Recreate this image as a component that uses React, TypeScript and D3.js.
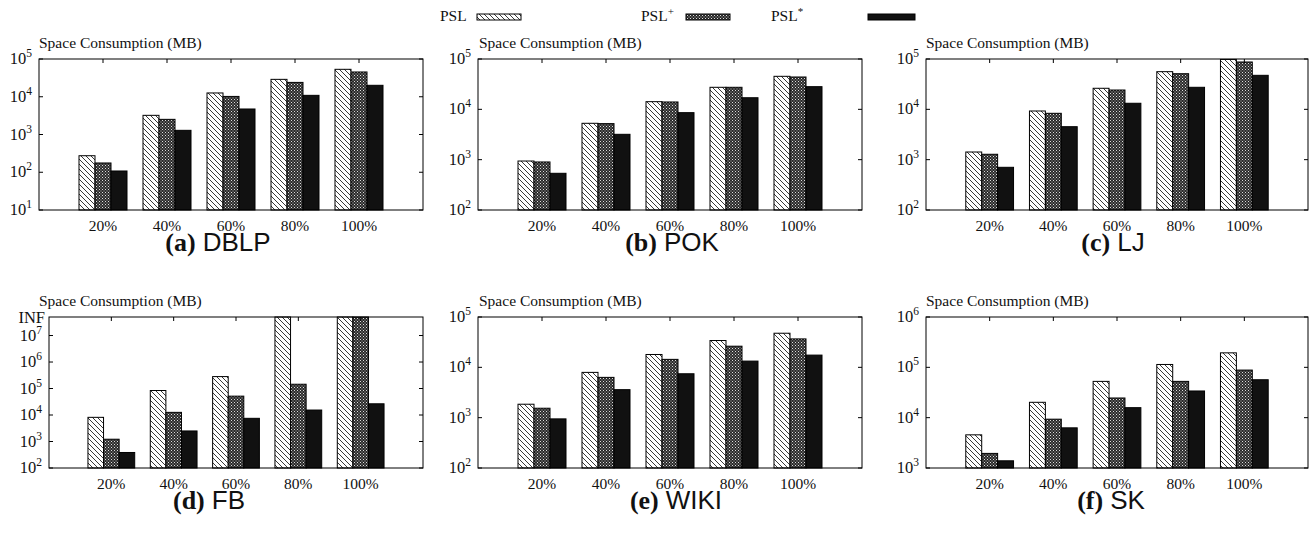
import React from "react";
import * as d3 from "d3";

// categories and series
const categories = ["20%", "40%", "60%", "80%", "100%"];
const seriesNames = ["PSL", "PSL+", "PSL*"];

// space consumption (MB)
const dblpPSL = [274, 3220, 12600, 28900, 53300];
const dblpPSLPlus = [176, 2520, 10200, 24000, 45300];
const dblpPSLStar = [108, 1290, 4740, 10900, 20100];

const pokPSL = [940, 5280, 14200, 27400, 45300];
const pokPSLPlus = [900, 5200, 14000, 27400, 43900];
const pokPSLStar = [536, 3190, 8590, 17000, 28200];

const ljPSL = [1420, 9270, 26200, 56000, 98000];
const ljPSLPlus = [1280, 8340, 24200, 51000, 87200];
const ljPSLStar = [705, 4520, 13200, 27400, 47400];

// Infinity = "INF" (did not finish)
const fbPSL = [8170, 84100, 282000, Infinity, Infinity];
const fbPSLPlus = [1220, 12600, 51500, 145000, Infinity];
const fbPSLStar = [385, 2500, 7500, 15400, 26500];

const wikiPSL = [1850, 7940, 18000, 34100, 47600];
const wikiPSLPlus = [1540, 6320, 14400, 26300, 36700];
const wikiPSLStar = [946, 3600, 7450, 13300, 17500];

const skPSL = [4560, 20200, 52600, 114000, 194000];
const skPSLPlus = [1950, 9330, 24600, 52600, 88200];
const skPSLStar = [1390, 6280, 15800, 33900, 56700];

const yTickExponents = {
  dblp: [1, 2, 3, 4, 5],
  pok: [2, 3, 4, 5],
  lj: [2, 3, 4, 5],
  fb: [2, 3, 4, 5, 6, 7],
  wiki: [2, 3, 4, 5],
  sk: [3, 4, 5, 6],
};

const SERIF = "'Liberation Serif', 'Times New Roman', serif";
const SANS = "'Liberation Sans', Arial, sans-serif";

const panels = [
  { letter: "a", name: "DBLP", data: [dblpPSL, dblpPSLPlus, dblpPSLStar], ymin: 1e1, ymax: 1e5, exps: yTickExponents.dblp, left: 39, right: 423, top: 59, bottom: 210, labelX: 39, capX: 218 },
  { letter: "b", name: "POK", data: [pokPSL, pokPSLPlus, pokPSLStar], ymin: 1e2, ymax: 1e5, exps: yTickExponents.pok, left: 478, right: 862, top: 59, bottom: 210, labelX: 479, capX: 672 },
  { letter: "c", name: "LJ", data: [ljPSL, ljPSLPlus, ljPSLStar], ymin: 1e2, ymax: 1e5, exps: yTickExponents.lj, left: 926, right: 1308, top: 59, bottom: 210, labelX: 926, capX: 1113 },
  { letter: "d", name: "FB", data: [fbPSL, fbPSLPlus, fbPSLStar], ymin: 1e2, ymax: 5e7, exps: yTickExponents.fb, inf: true, left: 49, right: 423, top: 317, bottom: 468, labelX: 39, capX: 209 },
  { letter: "e", name: "WIKI", data: [wikiPSL, wikiPSLPlus, wikiPSLStar], ymin: 1e2, ymax: 1e5, exps: yTickExponents.wiki, left: 478, right: 862, top: 317, bottom: 468, labelX: 479, capX: 676 },
  { letter: "f", name: "SK", data: [skPSL, skPSLPlus, skPSLStar], ymin: 1e3, ymax: 1e6, exps: yTickExponents.sk, left: 926, right: 1308, top: 317, bottom: 468, labelX: 926, capX: 1111 },
];

const fills = ["url(#hatch)", "url(#checker)", "#111"];

function Panel({ p }) {
  const x = d3.scaleLinear().domain([0, categories.length + 1]).range([p.left, p.right]);
  const y = d3.scaleLog().domain([p.ymin, p.ymax]).range([p.bottom, p.top]).clamp(true);
  const bw = 0.25;
  const tick = 4;

  return (
    <g>
      {/* bars */}
      {p.data.map((vals, s) =>
        vals.map((v, i) => {
          const x0 = x(i + 1 - 0.375 + s * bw);
          const x1 = x(i + 1 - 0.375 + (s + 1) * bw);
          const yv = Number.isFinite(v) ? y(v) : y(p.ymax);
          return (
            <rect key={s + "-" + i} x={x0} y={yv} width={x1 - x0} height={p.bottom - yv}
              fill={fills[s]} stroke="#000" strokeWidth={1} />
          );
        })
      )}

      {/* frame */}
      <rect x={p.left} y={p.top} width={p.right - p.left} height={p.bottom - p.top}
        fill="none" stroke="#000" strokeWidth={1} />

      {/* y ticks */}
      {p.exps.map((e) => {
        const yy = y(Math.pow(10, e));
        return (
          <g key={"y" + e}>
            <line x1={p.left} x2={p.left + tick} y1={yy} y2={yy} stroke="#000" />
            <line x1={p.right} x2={p.right - tick} y1={yy} y2={yy} stroke="#000" />
            <text x={p.left - 7} y={yy + 5} textAnchor="end" fontFamily={SERIF} fontSize={16.5} fill="#111">
              10<tspan dy={-7} fontSize={11.5}>{e}</tspan>
            </text>
          </g>
        );
      })}
      {p.inf && (
        <text x={p.left - 4} y={y(p.ymax) + 6} textAnchor="end" fontFamily={SERIF} fontSize={16.5} fill="#111">INF</text>
      )}

      {/* x ticks (top, mirrored) and labels */}
      {categories.map((c, i) => (
        <g key={c}>
          <line x1={x(i + 1)} x2={x(i + 1)} y1={p.top} y2={p.top + tick} stroke="#000" />
          <text x={x(i + 1)} y={p.bottom + 21} textAnchor="middle" fontFamily={SERIF} fontSize={15.5} fill="#111">{c}</text>
        </g>
      ))}

      {/* axis title */}
      <text x={p.labelX} y={p.top - 11} fontFamily={SERIF} fontSize={15.5} fill="#111">Space Consumption (MB)</text>

      {/* caption */}
      <text x={p.capX} y={p.bottom + 41} textAnchor="middle" fontSize={26} fill="#111">
        <tspan fontFamily={SERIF} fontWeight="bold">({p.letter})</tspan>
        <tspan fontFamily={SANS} dx={7}>{p.name}</tspan>
      </text>
    </g>
  );
}

function Legend() {
  const items = [
    { text: "PSL", sup: "", tx: 440, sx: 477, sw: 44 },
    { text: "PSL", sup: "+", tx: 641, sx: 686, sw: 44 },
    { text: "PSL", sup: "*", tx: 771, sx: 868, sw: 47 },
  ];
  return (
    <g>
      {items.map((it, s) => (
        <g key={seriesNames[s]}>
          <text x={it.tx} y={21} fontFamily={SERIF} fontSize={15.5} fill="#111">
            {it.text}
            {it.sup && <tspan dy={-6} fontSize={11}>{it.sup}</tspan>}
          </text>
          <rect x={it.sx} y={14} width={it.sw} height={6} fill={fills[s]} stroke="#000" strokeWidth={1} />
        </g>
      ))}
    </g>
  );
}

export default function App() {
  return (
    <svg width={1314} height={533} style={{ position: "absolute", left: 0, top: 0, background: "#fff" }}>
      <defs>
        <pattern id="hatch" patternUnits="userSpaceOnUse" width={5} height={5}>
          <rect width={5} height={5} fill="#fff" />
          <path d="M0,0 L5,5 M-1,4 L1,6 M4,-1 L6,1" stroke="#222" strokeWidth={0.9} />
        </pattern>
        <pattern id="checker" patternUnits="userSpaceOnUse" width={3} height={3}>
          <rect width={3} height={3} fill="#2a2a2a" />
          <rect x={0} y={0} width={1} height={1} fill="#ddd" />
          <rect x={1.5} y={1.5} width={1} height={1} fill="#bbb" />
        </pattern>
      </defs>
      <Legend />
      {panels.map((p) => (
        <Panel key={p.letter} p={p} />
      ))}
    </svg>
  );
}
